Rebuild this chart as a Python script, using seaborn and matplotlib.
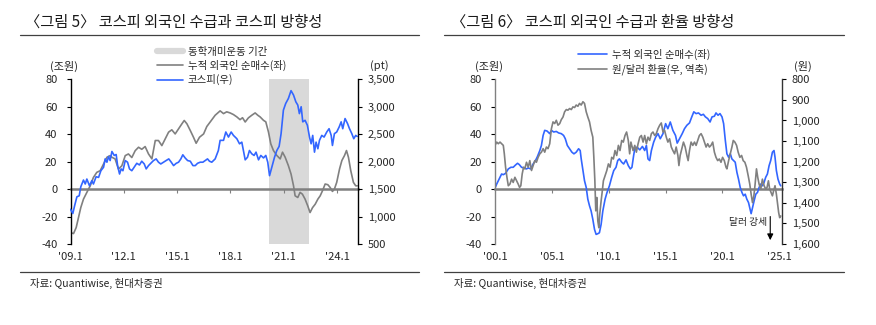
import matplotlib
matplotlib.use("Agg")
import matplotlib.pyplot as plt
import seaborn as sns
import numpy as np
from matplotlib.lines import Line2D

# ---------------- data: figure 5 (KOSPI foreign flows vs KOSPI) ----------------
f5_net_dates = [2009.0, 2009.17, 2009.32, 2009.45, 2009.58, 2009.73, 2009.92, 2010.11, 2010.29, 2010.48,
                2010.67, 2010.86, 2011.05, 2011.23, 2011.33, 2011.51, 2011.7, 2011.89, 2012.08, 2012.26,
                2012.45, 2012.64, 2012.83, 2013.01, 2013.2, 2013.39, 2013.58, 2013.77, 2013.95, 2014.14,
                2014.33, 2014.52, 2014.7, 2014.89, 2015.08, 2015.27, 2015.4, 2015.55, 2015.74, 2015.92,
                2016.07, 2016.26, 2016.49, 2016.67, 2016.86, 2017.14, 2017.42, 2017.61, 2017.79, 2017.98,
                2018.17, 2018.36, 2018.54, 2018.68, 2018.83, 2019.01, 2019.2, 2019.39, 2019.54, 2019.67,
                2019.86, 2019.99, 2020.14, 2020.27, 2020.42, 2020.61, 2020.8, 2020.93, 2021.08, 2021.26,
                2021.41, 2021.55, 2021.64, 2021.79, 2021.92, 2022.05, 2022.2, 2022.35, 2022.48, 2022.62,
                2022.77, 2022.92, 2023.05, 2023.18, 2023.33, 2023.48, 2023.61, 2023.74, 2023.85, 2023.98,
                2024.14, 2024.27, 2024.42, 2024.53, 2024.64, 2024.77, 2024.92, 2025.05, 2025.13]
f5_net_buy = [-31.7, -32.4, -28, -20.7, -13.4, -7.3, -2.4, 2.4, 8.5, 12.2,
              13.4, 18.3, 23.2, 24.4, 23.2, 22, 14.6, 17, 24.4, 25.6,
              23, 28, 30.5, 29, 31, 25.6, 22, 35.4, 35.4, 31.7,
              36.6, 41.5, 43.2, 40.2, 43.9, 47.6, 50, 47.6, 42.7, 37.8,
              33.4, 37.8, 40.2, 45.6, 48.9, 53.8, 57, 55, 56.3, 55.5,
              54.3, 52.6, 50.6, 52, 48.9, 51.9, 53.8, 55.5, 53.8, 52.6,
              50.1, 49, 41.6, 33, 28.1, 24.5, 22, 26.9, 23.2, 17.1,
              11, 2.4, -4.9, -6.1, -2.4, -3.7, -7.3, -12.2, -17.1, -13.5,
              -11, -7.3, -4.9, -1.2, 3.7, 3.2, 1.2, -1.7, 0, 4.9,
              14.7, 20.8, 24.5, 28.1, 23.2, 13.5, 4.9, 2.4, 2.4]

f5_kospi_dates = [2009.0, 2009.13, 2009.23, 2009.36, 2009.49, 2009.58, 2009.73, 2009.83, 2009.92, 2010.07,
                  2010.2, 2010.29, 2010.44, 2010.58, 2010.71, 2010.86, 2010.95, 2011.05, 2011.14, 2011.23,
                  2011.33, 2011.46, 2011.57, 2011.65, 2011.76, 2011.85, 2011.95, 2012.08, 2012.21, 2012.32,
                  2012.45, 2012.58, 2012.73, 2012.88, 2013.01, 2013.15, 2013.26, 2013.39, 2013.52, 2013.67,
                  2013.82, 2013.95, 2014.08, 2014.23, 2014.38, 2014.53, 2014.67, 2014.8, 2014.95, 2015.08,
                  2015.21, 2015.32, 2015.45, 2015.59, 2015.74, 2015.89, 2016.02, 2016.15, 2016.3, 2016.45,
                  2016.58, 2016.71, 2016.82, 2016.95, 2017.14, 2017.32, 2017.42, 2017.61, 2017.74, 2017.89,
                  2018.04, 2018.17, 2018.36, 2018.51, 2018.64, 2018.73, 2018.83, 2018.96, 2019.07, 2019.2,
                  2019.33, 2019.44, 2019.58, 2019.71, 2019.86, 2019.99, 2020.1, 2020.2, 2020.33, 2020.48,
                  2020.61, 2020.74, 2020.85, 2020.98, 2021.11, 2021.26, 2021.41, 2021.55, 2021.68, 2021.79,
                  2021.88, 2021.98, 2022.07, 2022.2, 2022.33, 2022.45, 2022.54, 2022.63, 2022.73, 2022.82,
                  2022.92, 2023.01, 2023.14, 2023.27, 2023.42, 2023.55, 2023.67, 2023.74, 2023.85, 2023.98,
                  2024.12, 2024.23, 2024.32, 2024.45, 2024.59, 2024.7, 2024.83, 2024.94, 2025.05, 2025.13]
f5_kospi = [1132, 1055, 1195, 1360, 1378, 1543, 1665, 1593, 1683, 1560,
            1653, 1593, 1725, 1713, 1835, 1898, 2050, 1990, 2093, 2020,
            2185, 2113, 2130, 1928, 1775, 1868, 1835, 2020, 1990, 1868,
            1835, 1898, 1970, 1940, 2008, 1958, 1868, 1928, 1970, 2020,
            2050, 1990, 1958, 1990, 2020, 2050, 1990, 1928, 1970, 1990,
            2050, 2125, 2068, 2020, 2008, 1928, 1928, 1970, 1990, 1990,
            2020, 2050, 2008, 1990, 2050, 2203, 2388, 2388, 2540, 2448,
            2540, 2478, 2418, 2325, 2355, 2203, 2033, 2080, 2203, 2143,
            2113, 2173, 2033, 2113, 2068, 2113, 1990, 1745, 1898, 2080,
            2203, 2278, 2510, 2938, 3060, 3150, 3293, 3213, 3090, 3030,
            2875, 3000, 2725, 2753, 2663, 2448, 2325, 2478, 2173, 2355,
            2235, 2388, 2478, 2448, 2540, 2600, 2478, 2295, 2510, 2540,
            2633, 2725, 2600, 2785, 2693, 2600, 2510, 2418, 2478, 2460]

f5_ant_period = [2020.15, 2022.42]   # 동학개미운동 기간
f5_xticks = [2009, 2012, 2015, 2018, 2021, 2024]
f5_xticklabels = ["'09.1", "'12.1", "'15.1", "'18.1", "'21.1", "'24.1"]
f5_lticks = [-40, -20, 0, 20, 40, 60, 80]
f5_rticks = [500, 1000, 1500, 2000, 2500, 3000, 3500]

# ---------------- data: figure 6 (foreign flows vs KRW/USD) ----------------
f6_net_dates = [2000.0, 2000.15, 2000.29, 2000.44, 2000.58, 2000.73, 2000.93, 2001.17, 2001.4, 2001.6,
                2001.81, 2001.98, 2002.13, 2002.33, 2002.54, 2002.77, 2002.92, 2003.15, 2003.35, 2003.56,
                2003.73, 2003.94, 2004.08, 2004.23, 2004.37, 2004.58, 2004.81, 2004.96, 2005.16, 2005.39,
                2005.6, 2005.83, 2006.03, 2006.18, 2006.36, 2006.56, 2006.76, 2006.94, 2007.14, 2007.35,
                2007.49, 2007.58, 2007.73, 2007.87, 2008.02, 2008.16, 2008.31, 2008.45, 2008.6, 2008.75,
                2008.89, 2009.04, 2009.18, 2009.33, 2009.48, 2009.68, 2009.85, 2010.06, 2010.26, 2010.44,
                2010.64, 2010.79, 2010.93, 2011.14, 2011.31, 2011.52, 2011.72, 2011.9, 2012.04, 2012.19,
                2012.29, 2012.49, 2012.73, 2012.96, 2013.16, 2013.31, 2013.45, 2013.6, 2013.75, 2013.95,
                2014.13, 2014.33, 2014.53, 2014.77, 2015.0, 2015.2, 2015.41, 2015.64, 2015.87, 2016.02,
                2016.22, 2016.46, 2016.66, 2016.87, 2017.1, 2017.3, 2017.48, 2017.68, 2017.89, 2018.12,
                2018.32, 2018.5, 2018.7, 2018.91, 2019.08, 2019.29, 2019.43, 2019.61, 2019.78, 2019.96,
                2020.1, 2020.25, 2020.39, 2020.54, 2020.69, 2020.83, 2020.98, 2021.12, 2021.27, 2021.41,
                2021.56, 2021.71, 2021.85, 2022.0, 2022.14, 2022.29, 2022.43, 2022.52, 2022.64, 2022.78,
                2022.93, 2023.08, 2023.22, 2023.37, 2023.51, 2023.66, 2023.8, 2023.95, 2024.1, 2024.24,
                2024.39, 2024.53, 2024.62, 2024.74, 2024.88, 2025.03, 2025.12]
f6_net_buy = [0.7, 3.7, 6.1, 8.6, 11, 10.5, 11.5, 14.7, 15.9, 15.9,
              17.6, 18.8, 17.9, 15.9, 15.4, 14.7, 15.4, 14.7, 18.3, 20.8,
              23.7, 28.1, 31.8, 39.1, 42.8, 42.3, 40.4, 42.8, 41.6, 42,
              40.9, 40.4, 39.1, 36.7, 31.8, 29.4, 26.9, 25.7, 26.9, 29.4,
              28.1, 22, 13.5, 6.1, 1.2, -7.3, -12.2, -15.9, -22, -29.4,
              -33, -32.5, -31.8, -25.7, -15.9, -7.3, -2.4, 2.4, 8.6, 13.5,
              15.9, 20.8, 22, 19.6, 18.3, 21.3, 17.1, 14.7, 15.9, 24.5,
              29.4, 30.6, 28.6, 31.1, 28.1, 31.8, 22, 20.8, 28.1, 34.2,
              37.9, 40.4, 36.7, 40.4, 47.7, 44, 48.9, 42.8, 39.1, 33.5,
              36.7, 40.4, 44, 46.5, 48.2, 52.6, 56.3, 55, 55.5, 53.8,
              54.5, 52.6, 51.4, 48.9, 52.6, 53.1, 55.5, 53.8, 55, 52.6,
              47.7, 35.5, 25.7, 23.2, 25.7, 22, 20.8, 19.6, 12.2, 7.3,
              1.2, -2.4, -4.9, -3.7, -7.3, -9.8, -14.7, -17.9, -13.5, -8.6,
              -3.7, -2.4, 1.2, 3.7, 2.4, 4.9, 8.6, 11, 17.1, 20.8,
              26.9, 28.1, 23.2, 13.5, 7.3, 3.7, 2.4]

f6_fx_dates = [2000.0, 2000.15, 2000.29, 2000.44, 2000.58, 2000.73, 2000.82, 2000.93, 2001.05, 2001.17,
               2001.31, 2001.46, 2001.6, 2001.75, 2001.9, 2002.04, 2002.16, 2002.27, 2002.39, 2002.51,
               2002.62, 2002.77, 2002.92, 2003.06, 2003.21, 2003.35, 2003.5, 2003.64, 2003.79, 2003.94,
               2004.08, 2004.23, 2004.37, 2004.52, 2004.66, 2004.81, 2004.96, 2005.1, 2005.25, 2005.39,
               2005.54, 2005.69, 2005.83, 2005.98, 2006.12, 2006.27, 2006.41, 2006.56, 2006.71, 2006.85,
               2007.0, 2007.14, 2007.29, 2007.43, 2007.58, 2007.73, 2007.87, 2008.02, 2008.16, 2008.31,
               2008.45, 2008.6, 2008.69, 2008.78, 2008.86, 2008.95, 2009.04, 2009.13, 2009.21, 2009.33,
               2009.42, 2009.53, 2009.68, 2009.83, 2009.97, 2010.12, 2010.26, 2010.41, 2010.55, 2010.7,
               2010.85, 2010.99, 2011.14, 2011.28, 2011.43, 2011.57, 2011.72, 2011.84, 2011.95, 2012.14,
               2012.29, 2012.43, 2012.58, 2012.73, 2012.87, 2013.02, 2013.16, 2013.31, 2013.45, 2013.6,
               2013.75, 2013.89, 2014.04, 2014.18, 2014.33, 2014.48, 2014.62, 2014.77, 2014.91, 2015.06,
               2015.2, 2015.35, 2015.5, 2015.64, 2015.79, 2015.93, 2016.08, 2016.17, 2016.28, 2016.43,
               2016.57, 2016.72, 2016.87, 2016.98, 2017.1, 2017.24, 2017.39, 2017.54, 2017.68, 2017.83,
               2017.97, 2018.12, 2018.27, 2018.41, 2018.56, 2018.7, 2018.85, 2018.99, 2019.14, 2019.29,
               2019.43, 2019.58, 2019.72, 2019.87, 2020.01, 2020.16, 2020.31, 2020.39, 2020.54, 2020.69,
               2020.83, 2020.95, 2021.09, 2021.24, 2021.38, 2021.53, 2021.68, 2021.82, 2021.97, 2022.11,
               2022.26, 2022.4, 2022.52, 2022.64, 2022.76, 2022.87, 2022.99, 2023.1, 2023.22, 2023.37,
               2023.51, 2023.66, 2023.8, 2023.92, 2024.04, 2024.15, 2024.27, 2024.39, 2024.5, 2024.62,
               2024.74, 2024.85, 2024.94, 2025.03, 2025.12]
f6_usdkrw = [1121, 1105, 1113, 1105, 1113, 1121, 1162, 1227, 1276, 1317,
             1309, 1285, 1301, 1276, 1293, 1309, 1325, 1317, 1260, 1227,
             1235, 1203, 1227, 1195, 1243, 1219, 1195, 1203, 1179, 1162,
             1154, 1137, 1154, 1129, 1137, 1113, 1040, 1007, 1015, 999,
             1023, 1015, 996, 983, 958, 947, 950, 942, 947, 934,
             937, 925, 931, 917, 925, 909, 917, 958, 983, 1007,
             1048, 1081, 1179, 1293, 1439, 1374, 1488, 1521, 1455, 1391,
             1349, 1293, 1268, 1243, 1211, 1227, 1179, 1187, 1146, 1170,
             1121, 1146, 1097, 1105, 1073, 1056, 1097, 1162, 1105, 1146,
             1121, 1154, 1113, 1081, 1073, 1105, 1073, 1113, 1081, 1097,
             1064, 1056, 1073, 1064, 1040, 1023, 1012, 1056, 1048, 1081,
             1105, 1089, 1129, 1146, 1162, 1129, 1170, 1219, 1170, 1137,
             1105, 1129, 1170, 1195, 1146, 1105, 1121, 1105, 1121, 1097,
             1073, 1064, 1081, 1105, 1129, 1113, 1129, 1121, 1105, 1154,
             1179, 1195, 1187, 1203, 1179, 1195, 1227, 1235, 1195, 1162,
             1129, 1097, 1105, 1121, 1154, 1179, 1170, 1195, 1203, 1227,
             1268, 1309, 1358, 1399, 1366, 1309, 1235, 1276, 1309, 1333,
             1285, 1317, 1333, 1325, 1293, 1333, 1349, 1366, 1341, 1317,
             1358, 1407, 1447, 1472, 1464]

f6_xticks = [2000, 2005, 2010, 2015, 2020, 2025]
f6_xticklabels = ["'00.1", "'05.1", "'10.1", "'15.1", "'20.1", "'25.1"]
f6_lticks = [-40, -20, 0, 20, 40, 60, 80]
f6_rticks = [800, 900, 1000, 1100, 1200, 1300, 1400, 1500, 1600]
f6_arrow = [2024.2, -20.0, -37.2]   # x, start y, end y (달러 강세)

# ---------------- styling ----------------
sns.set_theme(style="white")
FONT = ["Noto Sans CJK KR", "DejaVu Sans"]
plt.rcParams["font.family"] = FONT
plt.rcParams["axes.unicode_minus"] = False

BLUE = "#3366ff"
GRAY = "#808080"
SHADE = "#d9d9d9"
TXT = "#262626"
W, H = 876, 325

fig = plt.figure(figsize=(W / 100, H / 100), dpi=100)


def fx(px):
    return px / W


def fy(py):
    return 1 - py / H


def fmt(v):
    return f"{v:,}"


def style_axes(ax, axr, xl, xr, xticks, xlabels, lticks, rticks, left_spine_color, right_spine_color, rpad):
    ax.set_xlim(xl, xr)
    ax.set_ylim(-40, 80)
    ax.set_xticks(xticks)
    ax.set_xticklabels(xlabels)
    ax.set_yticks(lticks)
    ax.set_yticklabels([str(t) for t in lticks])
    ax.tick_params(axis="x", length=0, pad=5.5, labelsize=8, labelcolor=TXT)
    ax.tick_params(axis="y", direction="out", length=3, width=0.8, pad=6.5, labelsize=8,
                   labelcolor=TXT, color="#000000", left=True)
    axr.set_yticks(rticks)
    axr.set_yticklabels([fmt(t) for t in rticks])
    axr.tick_params(axis="y", direction="out", length=3, width=0.8, pad=rpad, labelsize=8,
                    labelcolor=TXT, color="#000000", right=True)
    for a in (ax, axr):
        for s in ("top", "bottom", "left", "right"):
            a.spines[s].set_visible(False)
        a.grid(False)
        a.set_xlabel("")
        a.set_ylabel("")
    ax.spines["left"].set_visible(True)
    ax.spines["left"].set_color(left_spine_color)
    ax.spines["left"].set_linewidth(1.0)
    axr.spines["right"].set_visible(True)
    axr.spines["right"].set_color(right_spine_color)
    axr.spines["right"].set_linewidth(1.0)
    # zero line with downward ticks
    sec = ax.secondary_xaxis((0 - (-40)) / 120)
    sec.set_xticks(xticks[1:-1] if xticks[-1] >= xr - 0.5 else xticks[1:])
    sec.tick_params(axis="x", direction="out", length=3, width=0.8, color=GRAY, labelbottom=False)
    sec.spines["bottom"].set_color(GRAY)
    sec.spines["bottom"].set_linewidth(1.8)
    sec.set_zorder(1)


# ---------------- Figure 5 ----------------
ax1 = fig.add_axes([fx(70.5), fy(244), fx(357.5) - fx(70.5), fy(79.3) - fy(244)])
ax1.axvspan(f5_ant_period[0], f5_ant_period[1], color=SHADE, lw=0, zorder=0)
sns.lineplot(x=f5_net_dates, y=f5_net_buy, ax=ax1, color=GRAY, linewidth=1.2, legend=False)
ax2 = ax1.twinx()
sns.lineplot(x=f5_kospi_dates, y=f5_kospi, ax=ax2, color=BLUE, linewidth=1.2, legend=False)
ax2.set_ylim(500, 3500)
style_axes(ax1, ax2, 2009.0, 2025.15, f5_xticks, f5_xticklabels, f5_lticks, f5_rticks,
           "#000000", "#000000", 4.5)

# ---------------- Figure 6 ----------------
ax3 = fig.add_axes([fx(495), fy(244), fx(782.3) - fx(495), fy(79.3) - fy(244)])
sns.lineplot(x=f6_net_dates, y=f6_net_buy, ax=ax3, color=BLUE, linewidth=1.2, legend=False)
ax4 = ax3.twinx()
sns.lineplot(x=f6_fx_dates, y=f6_usdkrw, ax=ax4, color=GRAY, linewidth=1.2, legend=False)
ax4.set_ylim(1600, 800)
style_axes(ax3, ax4, 2000.0, 2025.26, f6_xticks, f6_xticklabels, f6_lticks, f6_rticks,
           GRAY, "#333333", 3.8)
ax3.annotate("", xy=(f6_arrow[0], f6_arrow[2]), xytext=(f6_arrow[0], f6_arrow[1]),
             arrowprops=dict(arrowstyle="-|>", color="black", lw=0.8, mutation_scale=9,
                             shrinkA=0, shrinkB=0), zorder=5)
ax3.text(f6_arrow[0] - 0.3, -23.8, "달러 강세", ha="right", va="center", fontsize=7, color=TXT)

# ---------------- titles, rules, sources, units, legends ----------------
for x0, x1, tx, title in [(20, 419, 25, "〈그림 5〉 코스피 외국인 수급과 코스피 방향성"),
                          (444, 844, 451, "〈그림 6〉 코스피 외국인 수급과 환율 방향성")]:
    fig.text(fx(tx), fy(22), title, ha="left", va="center", fontsize=11, color="#1a1a1a")
    fig.add_artist(Line2D([fx(x0), fx(x1)], [fy(35), fy(35)], color="#404040", lw=0.9))
    fig.add_artist(Line2D([fx(x0), fx(x1)], [fy(272.3), fy(272.3)], color="#404040", lw=0.9))
    fig.text(fx(x0 + 9.5), fy(283), "자료: Quantiwise, 현대차증권", ha="left", va="center",
             fontsize=7.5, color=TXT)

for x, t in [(64, "(조원)"), (379, "(pt)"), (489, "(조원)"), (803, "(원)")]:
    fig.text(fx(x), fy(66), t, ha="center", va="center", fontsize=8, color=TXT)

h5 = [Line2D([], [], color=SHADE, lw=4.5),
      Line2D([], [], color=GRAY, lw=1.2),
      Line2D([], [], color=BLUE, lw=1.2)]
fig.legend(h5, ["동학개미운동 기간", "누적 외국인 순매수(좌)", "코스피(우)"],
           loc="upper left", bbox_to_anchor=(fx(157), fy(47)), frameon=False, fontsize=7.5,
           handlelength=2.5, handletextpad=0.45, labelspacing=0.3, borderpad=0, borderaxespad=0,
           labelcolor=TXT)
h6 = [Line2D([], [], color=BLUE, lw=1.2),
      Line2D([], [], color=GRAY, lw=1.2)]
fig.legend(h6, ["누적 외국인 순매수(좌)", "원/달러 환율(우, 역축)"],
           loc="upper left", bbox_to_anchor=(fx(578), fy(49)), frameon=False, fontsize=7.5,
           handlelength=2.8, handletextpad=0.45, labelspacing=0.35, borderpad=0, borderaxespad=0,
           labelcolor=TXT)

fig.savefig("out.png", dpi=100)
